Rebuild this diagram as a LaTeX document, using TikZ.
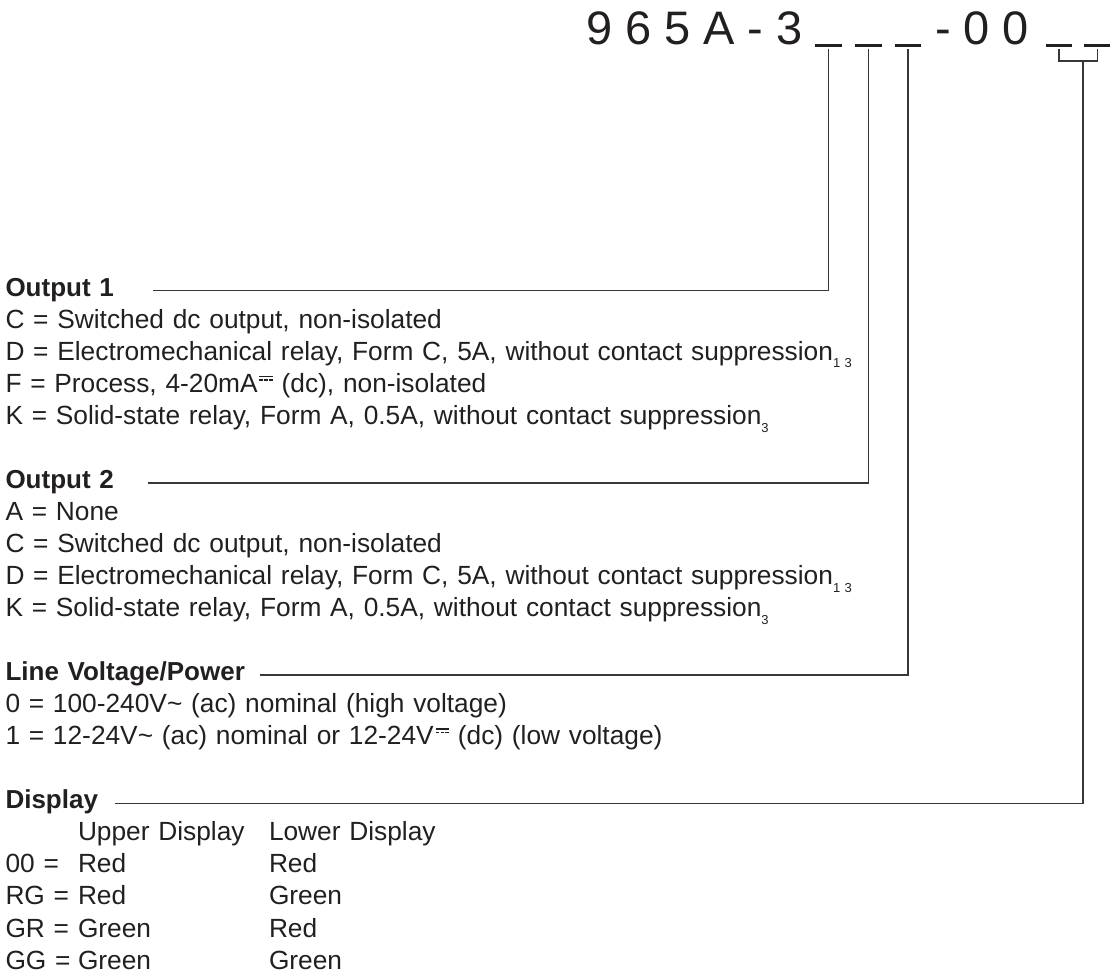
\documentclass[tikz,border=0pt]{standalone}
\usepackage{fontspec}
\setmainfont{Liberation Sans}[WordSpace=1.2]
\newfontfamily\codefont{Liberation Sans}
\definecolor{ink}{RGB}{35,31,32}
\definecolor{wire}{RGB}{55,55,55}
\newcommand{\dcsym}{\hbox to 0.58em{\hskip0.07em\rlap{\raisebox{0.56em}{\rule{0.5em}{0.06em}}}\raisebox{0.44em}{\rule{0.13em}{0.06em}\hskip0.055em\rule{0.13em}{0.06em}\hskip0.055em\rule{0.13em}{0.06em}}\hss}}
\newcommand{\subnote}[1]{\raisebox{-0.3em}{\fontsize{13}{13}\selectfont #1}}
\tikzset{
  txt/.style={anchor=base west, inner sep=0pt, outer sep=0pt, text=ink, font=\fontsize{26.3}{30}\selectfont},
  head/.style={txt, font=\fontsize{26}{30}\selectfont\bfseries},
  code/.style={anchor=base west, inner sep=0pt, outer sep=0pt, text=ink, font=\codefont\fontsize{47}{50}\selectfont},
  bar/.style={rectangle, fill=ink, draw=none, minimum width=26.5pt, minimum height=2.5pt, inner sep=0pt, outer sep=0pt},
  conn/.style={draw=wire, line width=1.4pt}
}
\begin{document}
\begin{tikzpicture}[x=1pt,y=-1pt]
\useasboundingbox (0,0) rectangle (1110,975);

% part number
\node[code] (c1) at (586,44) {9 6 5 A - 3};
\node[code] (c2) at (935,44) {- 0 0};
\node[bar] (u1) at (828.5,45.3) {};
\node[bar] (u2) at (868.5,45.3) {};
\node[bar] (u3) at (908,45.3) {};
\node[bar] (u4) at (1059,45.3) {};
\node[bar] (u5) at (1097.5,45.3) {};

% Output 1
\node[head] (o1) at (5.5,296) {Output 1};
\node[txt] (o1c) at (5.5,328.05) {C = Switched dc output, non-isolated};
\node[txt] (o1d) at (5.5,360.1) {D = Electromechanical relay, Form C, 5A, without contact suppression\subnote{1 3}};
\node[txt] (o1f) at (5.5,392.15) {F = Process, 4-20mA\dcsym{} (dc), non-isolated};
\node[txt] (o1k) at (5.5,424.2) {K = Solid-state relay, Form A, 0.5A, without contact suppression\subnote{3}};

% Output 2
\node[head] (o2) at (5.5,488.3) {Output 2};
\node[txt] (o2a) at (5.5,520.35) {A = None};
\node[txt] (o2c) at (5.5,552.4) {C = Switched dc output, non-isolated};
\node[txt] (o2d) at (5.5,584.45) {D = Electromechanical relay, Form C, 5A, without contact suppression\subnote{1 3}};
\node[txt] (o2k) at (5.5,616.5) {K = Solid-state relay, Form A, 0.5A, without contact suppression\subnote{3}};

% Line voltage
\node[head] (lv) at (5.5,680.6) {Line Voltage/Power};
\node[txt] (lv0) at (5.5,712.65) {0 = 100-240V\textasciitilde{} (ac) nominal (high voltage)};
\node[txt] (lv1) at (5.5,744.7) {1 = 12-24V\textasciitilde{} (ac) nominal or 12-24V\dcsym{} (dc) (low voltage)};

% Display
\node[head] (dp) at (5.5,808.8) {Display};
\node[txt] (dpu) at (78,840.85) {Upper Display};
\node[txt] (dpl) at (269,840.85) {Lower Display};
\node[txt] (k1) at (5.5,872.9) {00 =};
\node[txt] (k1u) at (78,872.9) {Red};
\node[txt] (k1l) at (269,872.9) {Red};
\node[txt] (k2) at (5.5,904.95) {RG =};
\node[txt] (k2u) at (78,904.95) {Red};
\node[txt] (k2l) at (269,904.95) {Green};
\node[txt] (k3) at (5.5,937) {GR =};
\node[txt] (k3u) at (78,937) {Green};
\node[txt] (k3l) at (269,937) {Red};
\node[txt] (k4) at (5.5,969.05) {GG =};
\node[txt] (k4u) at (78,969.05) {Green};
\node[txt] (k4l) at (269,969.05) {Green};

% leader ends
\coordinate (e1) at (153,290.5);
\coordinate (e2) at (148,482.8);
\coordinate (e3) at (260,675.1);
\coordinate (e4) at (115,803.3);
\coordinate (bm) at (1083,61);

% connectors
\draw[conn] ([yshift=-2.5pt]u1.south) |- (e1);
\draw[conn] ([yshift=-2.5pt]u2.south) |- (e2);
\draw[conn] ([yshift=-2.5pt]u3.south) |- (e3);
\draw[conn] ([yshift=-2.5pt]u4.south) |- (bm) -| ([yshift=-2.5pt]u5.south);
\draw[conn] (bm) |- (e4);
\end{tikzpicture}
\end{document}
